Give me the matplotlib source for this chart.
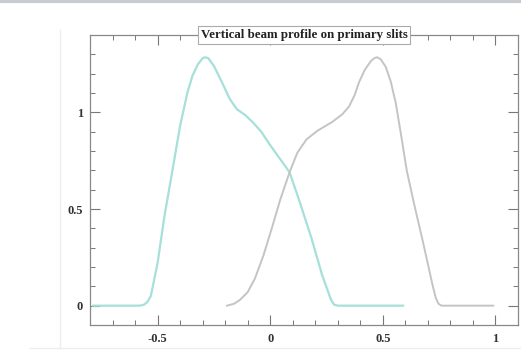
import matplotlib
matplotlib.use("Agg")
import matplotlib.pyplot as plt
from matplotlib.lines import Line2D
from matplotlib.ticker import MultipleLocator, FixedLocator
import numpy as np

title = "Vertical beam profile on primary slits"

cyan_x = [-0.786, -0.58, -0.56, -0.545, -0.53, -0.50, -0.47, -0.434, -0.40, -0.368, -0.345,
          -0.32, -0.30, -0.289, -0.275, -0.25, -0.214, -0.18, -0.148, -0.11, -0.077,
          -0.04, 0.0, 0.04, 0.086, 0.13, 0.183, 0.23, 0.27, 0.284, 0.30, 0.59]
cyan_y = [0.0, 0.0, 0.005, 0.02, 0.05, 0.22, 0.46, 0.70, 0.93, 1.10, 1.19,
          1.25, 1.28, 1.285, 1.28, 1.24, 1.155, 1.07, 1.016, 0.985, 0.948,
          0.90, 0.83, 0.765, 0.69, 0.54, 0.35, 0.16, 0.03, 0.005, 0.0, 0.0]

gray_x = [-0.192, -0.16, -0.134, -0.10, -0.068, -0.03, 0.007, 0.045, 0.086, 0.12, 0.161,
          0.21, 0.275, 0.32, 0.350, 0.375, 0.394, 0.42, 0.447, 0.462, 0.474, 0.49,
          0.513, 0.535, 0.557, 0.58, 0.606, 0.64, 0.68, 0.72, 0.735, 0.747, 0.76, 0.99]
gray_y = [0.0, 0.01, 0.03, 0.07, 0.14, 0.26, 0.40, 0.55, 0.69, 0.79, 0.86,
          0.905, 0.95, 0.99, 1.03, 1.09, 1.155, 1.22, 1.265, 1.28, 1.285, 1.275,
          1.235, 1.16, 1.05, 0.89, 0.70, 0.52, 0.32, 0.11, 0.04, 0.01, 0.0, 0.0]

xticks = [-0.5, 0, 0.5, 1]
xticklabels = ["-0.5", "0", "0.5", "1"]
yticks = [0, 0.5, 1]
yticklabels = ["0", "0.5", "1"]

fig = plt.figure(figsize=(5.21, 3.64), dpi=100)
ax = fig.add_axes([90/521, 1-325/364, (518-90)/521, (325-35)/364])

ax.plot(cyan_x, cyan_y, color="#a6e0da", lw=1.6, solid_joinstyle="round")
ax.plot(gray_x, gray_y, color="#c4c4c4", lw=1.4, solid_joinstyle="round")

ax.set_xlim(-0.8, 1.1)
ax.set_ylim(-0.1, 1.4)
ax.xaxis.set_major_locator(FixedLocator(xticks))
ax.set_xticklabels(xticklabels)
ax.yaxis.set_major_locator(FixedLocator(yticks))
ax.set_yticklabels(yticklabels)
ax.xaxis.set_minor_locator(MultipleLocator(0.1))
ax.yaxis.set_minor_locator(MultipleLocator(0.1))
ax.tick_params(which="both", direction="in", top=True, right=True, color="#777777")
ax.tick_params(which="major", length=7, width=0.8)
ax.tick_params(which="minor", length=3.5, width=0.7)
for lab in ax.get_xticklabels() + ax.get_yticklabels():
    lab.set_fontfamily("Liberation Serif")
    lab.set_fontweight("bold")
    lab.set_fontsize(9)
    lab.set_color("#333333")
ax.tick_params(axis="x", pad=6)
ax.tick_params(axis="y", pad=5)
for s in ax.spines.values():
    s.set_color("#888888")
    s.set_linewidth(0.9)

ax.text(0.50, 1.0, title, transform=ax.transAxes, ha="center", va="center",
        fontfamily="Liberation Serif", fontweight="bold", fontsize=9.3, color="#222222",
        bbox=dict(boxstyle="square,pad=0.2", fc="white", ec="#aaaaaa", lw=0.8), zorder=5)

# faint page artifacts
fig.add_artist(Line2D([60/521, 60/521], [1-30/364, 1-348/364], color="#eeeeee", lw=1))
fig.add_artist(Line2D([30/521, 1.0], [1-348/364, 1-348/364], color="#eeeeee", lw=1))
fig.add_artist(Line2D([0, 1], [1-1/364, 1-1/364], color="#c8ccd0", lw=3))

fig.savefig("out.png", dpi=100)
